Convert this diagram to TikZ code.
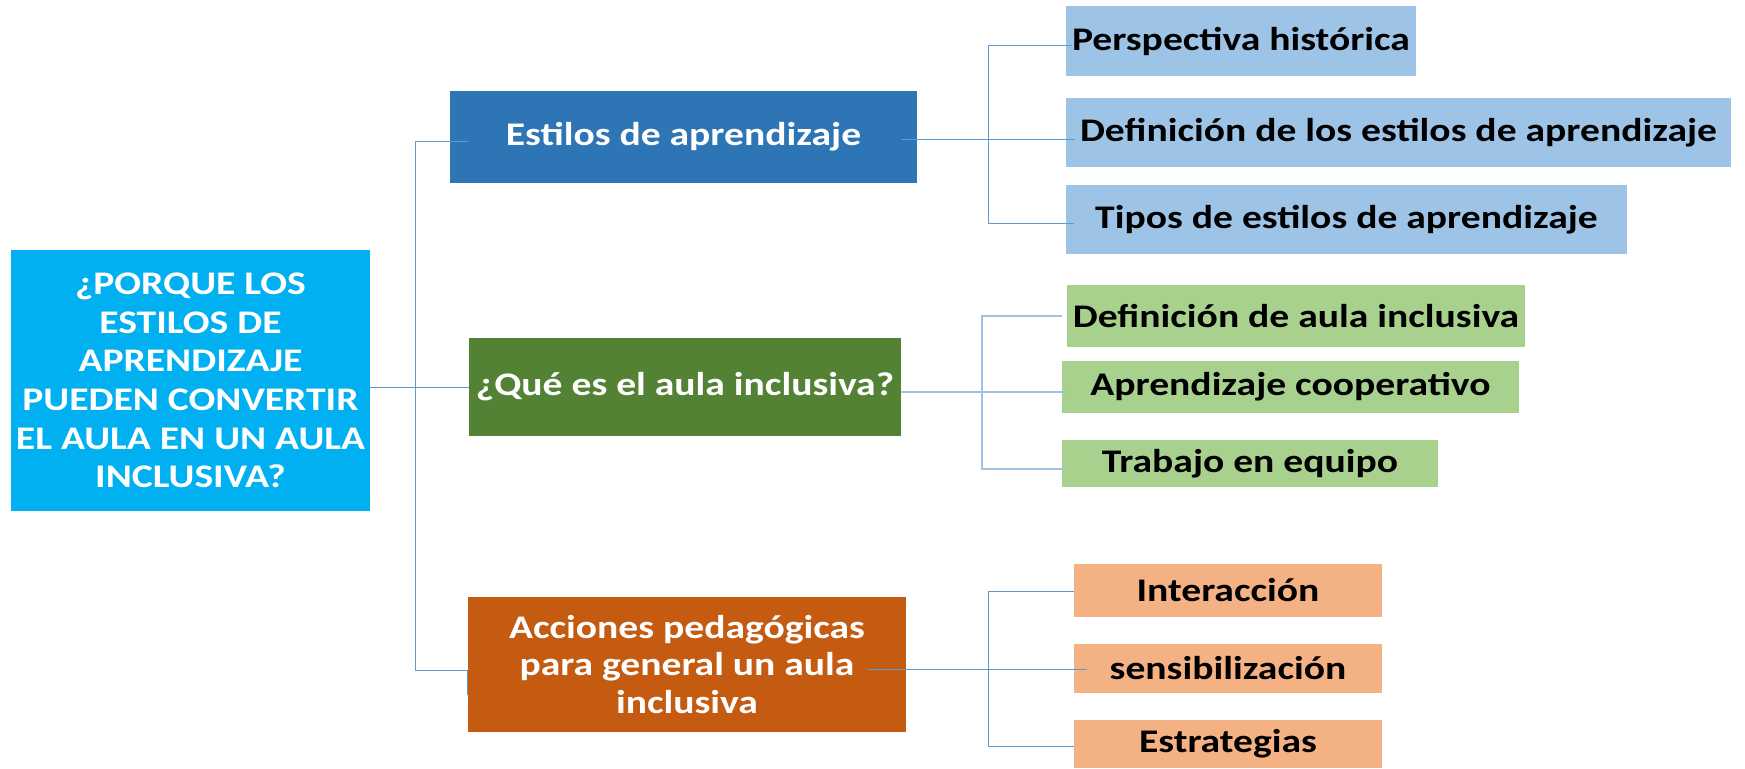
\documentclass[tikz,border=0pt]{standalone}
\usepackage{fontspec}
\setmainfont{Carlito}[FakeStretch=1.2]
\usetikzlibrary{calc}
\definecolor{cRoot}{HTML}{00B0F0}
\definecolor{cBlue}{HTML}{2E75B6}
\definecolor{cBlueL}{HTML}{9DC3E6}
\definecolor{cGreen}{HTML}{548235}
\definecolor{cGreenL}{HTML}{A9D18E}
\definecolor{cOrange}{HTML}{C55A11}
\definecolor{cOrangeL}{HTML}{F4B183}
\definecolor{cLine}{HTML}{5B9BD5}
\definecolor{cLineL}{HTML}{9DC3E6}
\begin{document}
\begin{tikzpicture}[x=0.5pt,y=-0.5pt,
  box/.style={rectangle, inner sep=0pt, align=center,
    font=\bfseries\fontsize{16.5}{19.3}\selectfont},
  main/.style={box, text=white},
  leaf/.style={box, text=black},
  conn/.style={draw=cLine, line width=0.5pt},
  connb/.style={draw=cLineL, line width=1pt}]
\useasboundingbox (0,0) rectangle (1745,768);
% root
\node[main, fill=cRoot, minimum width=179.5pt, minimum height=130.5pt] (root) at (190.5,380.5)
  {¿PORQUE LOS\\ESTILOS DE\\APRENDIZAJE\\PUEDEN CONVERTIR\\EL AULA EN UN AULA\\INCLUSIVA?};
% level 1
\node[main, fill=cBlue, minimum width=233.5pt, minimum height=46pt] (est) at (683.5,137) {Estilos de aprendizaje};
\node[main, fill=cGreen, minimum width=216pt, minimum height=49pt] (grn) at (685,387) {¿Qué es el aula inclusiva?};
\node[main, fill=cOrange, minimum width=219pt, minimum height=67.5pt,
  font=\bfseries\fontsize{16.5}{18.75}\selectfont] (ora) at (687,664.5)
  {Acciones pedagógicas\\para general un aula\\inclusiva};
% leaves blue
\node[leaf, fill=cBlueL, minimum width=175pt, minimum height=35pt] (per) at (1241,41) {Perspectiva histórica};
\node[leaf, fill=cBlueL, minimum width=332.5pt, minimum height=34.5pt] (def) at (1398.5,132.5) {Definición de los estilos de aprendizaje};
\node[leaf, fill=cBlueL, minimum width=280.5pt, minimum height=34.5pt] (tip) at (1346.5,219.5) {Tipos de estilos de aprendizaje};
% leaves green
\node[leaf, fill=cGreenL, minimum width=229pt, minimum height=31pt] (aul) at (1296,316) {Definición de aula inclusiva};
\node[leaf, fill=cGreenL, minimum width=228.5pt, minimum height=26pt] (coo) at (1290.5,387) {Aprendizaje cooperativo};
\node[leaf, fill=cGreenL, minimum width=188pt, minimum height=23.5pt] (tra) at (1250,463.5) {Trabajo en equipo};
% leaves orange
\node[leaf, fill=cOrangeL, minimum width=154pt, minimum height=26.5pt] (int) at (1228,590.5) {Interacción};
\node[leaf, fill=cOrangeL, minimum width=154pt, minimum height=24.5pt] (sen) at (1228,668.5) {sensibilización};
\node[leaf, fill=cOrangeL, minimum width=154pt, minimum height=24pt] (esg) at (1228,744) {Estrategias};
% trunk
\draw[conn] ($(est.west)+(18,4)$) -- ++(-52,0) coordinate (tt) |- ($(ora.west)+(0,5.5)$) -- ++(0,25);
\draw[conn] (root.east |- grn.west) -- (grn.west);
% blue group
\draw[conn] ($(est.east)+(-16,2)$) -- ++(87,0) coordinate (e1);
\draw[conn] (e1) |- ($(per.west)+(6,4)$);
\draw[conn] (e1) -- ($(e1 -| def.west)+(9,0)$);
\draw[conn] (e1) |- ($(tip.west)+(8,3.5)$);
% green group
\draw[connb] ($(grn.east)+(0,5)$) -- ++(81,0) coordinate (g1);
\draw[connb] (g1) |- ($(aul.west)+(-5,0)$);
\draw[connb] (g1) -- ($(g1 -| coo.west)+(3,0)$);
\draw[connb] (g1) |- ($(tra.west)+(1,5.5)$);
% orange group
\draw[conn] ($(ora.east)+(-39,4.5)$) -- ++(121,0) coordinate (o1);
\draw[conn] (o1) |- ($(int.west)+(0,0.5)$);
\draw[conn] (o1) -- ($(o1 -| sen.west)+(13,0)$);
\draw[conn] (o1) |- ($(esg.west)+(0,2)$);
\end{tikzpicture}
\end{document}
